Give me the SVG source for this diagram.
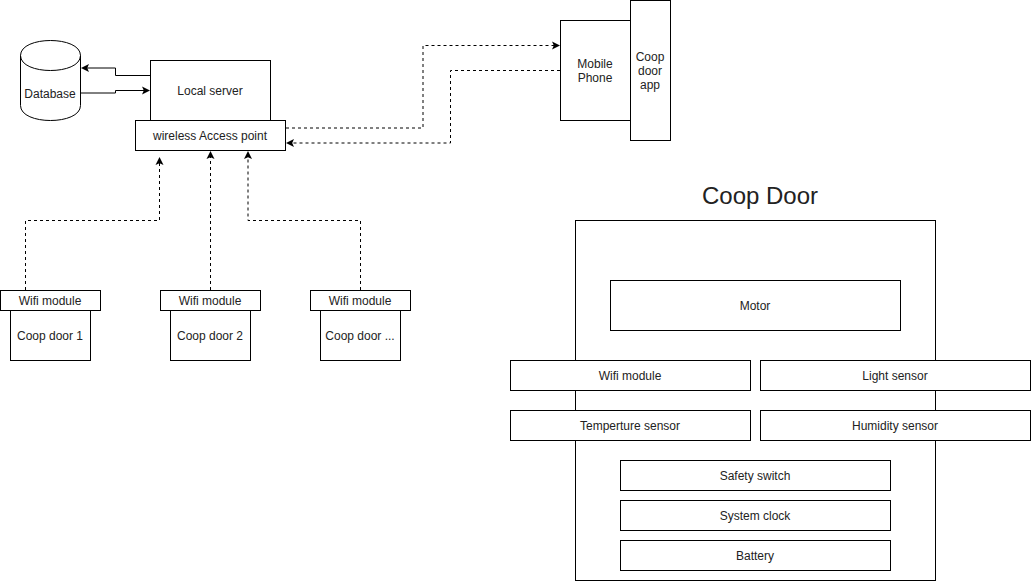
<svg xmlns="http://www.w3.org/2000/svg" width="1031" height="581" viewBox="0 0 1031 581">
<style>
text{font-family:"Liberation Sans",Arial,Helvetica,sans-serif;font-size:12px;fill:#222;text-anchor:middle}
.b{fill:#fff;stroke:#000;stroke-width:1}
.c{fill:none;stroke:#000;stroke-width:1;marker-end:url(#arrow)}
.d{stroke-dasharray:3 3}
</style>
<defs>
<marker id="arrow" markerUnits="userSpaceOnUse" markerWidth="10" markerHeight="10" viewBox="0 0 10 10" refX="3" refY="5" orient="auto">
<path d="M1 1L9 5L1 9L2.800 5Z" fill="#000"/>
</marker>
</defs>
<rect width="1031" height="581" fill="#fff"/>
<g id="database">
<path class="b" d="M20.5 55.5C20.500 35.500 80.500 35.500 80.500 55.500V105.500C80.500 125.500 20.500 125.500 20.500 105.500Z"/>
<path class="b" style="fill:none" d="M20.500 55.500C20.500 75.500 80.500 75.500 80.500 55.500"/>
<text x="50" y="98">Database</text>
</g>
<g id="local-server"><rect class="b" x="150.500" y="60.500" width="120" height="90"/><text x="210" y="95">Local server</text></g>
<g id="access-point"><rect class="b" x="135.500" y="120.500" width="150" height="30"/><text x="210" y="140">wireless Access point</text></g>
<g id="mobile-phone"><rect class="b" x="560.500" y="20.500" width="70" height="100"/><text x="595" y="68">Mobile</text><text x="595" y="82">Phone</text></g>
<g id="coop-door-app"><rect class="b" x="630.500" y="0.500" width="40" height="140"/><text x="650" y="61">Coop</text><text x="650" y="75">door</text><text x="650" y="89">app</text></g>
<g id="coop-door-1"><rect class="b" x="10.500" y="300.500" width="80" height="60"/><text x="50" y="340">Coop door 1</text></g>
<g id="wifi-1"><rect class="b" x="0.500" y="290.500" width="100" height="20"/><text x="50" y="305">Wifi module</text></g>
<g id="coop-door-2"><rect class="b" x="170.500" y="300.500" width="80" height="60"/><text x="210" y="340">Coop door 2</text></g>
<g id="wifi-2"><rect class="b" x="160.500" y="290.500" width="100" height="20"/><text x="210" y="305">Wifi module</text></g>
<g id="coop-door-3"><rect class="b" x="320.500" y="300.500" width="80" height="60"/><text x="360" y="340">Coop door ...</text></g>
<g id="wifi-3"><rect class="b" x="310.500" y="290.500" width="100" height="20"/><text x="360" y="305">Wifi module</text></g>
<g id="title"><text x="760" y="204" style="font-size:24px">Coop Door</text></g>
<g id="coop-door-panel"><rect class="b" x="575.500" y="220.500" width="360" height="360"/></g>
<g id="motor"><rect class="b" x="610.500" y="280.500" width="290" height="50"/><text x="755" y="310">Motor</text></g>
<g id="wifi-module"><rect class="b" x="510.500" y="360.500" width="240" height="30"/><text x="630" y="380">Wifi module</text></g>
<g id="light-sensor"><rect class="b" x="760.500" y="360.500" width="270" height="30"/><text x="895" y="380">Light sensor</text></g>
<g id="temperture-sensor"><rect class="b" x="510.500" y="410.500" width="240" height="30"/><text x="630" y="430">Temperture sensor</text></g>
<g id="humidity-sensor"><rect class="b" x="760.500" y="410.500" width="270" height="30"/><text x="895" y="430">Humidity sensor</text></g>
<g id="safety-switch"><rect class="b" x="620.500" y="460.500" width="270" height="30"/><text x="755" y="480">Safety switch</text></g>
<g id="system-clock"><rect class="b" x="620.500" y="500.500" width="270" height="30"/><text x="755" y="520">System clock</text></g>
<g id="battery"><rect class="b" x="620.500" y="540.500" width="270" height="30"/><text x="755" y="560">Battery</text></g>
<g id="connectors">
<path class="c" d="M150 75.500H115.500V68H87"/>
<path class="c" d="M81 93H115.500V90.500H144"/>
<path class="c d" d="M286 128H423V45.500H554"/>
<path class="c d" d="M560 70.500H450.500V143H292"/>
<path class="c d" d="M25.500 290V220.500H159.500V163"/>
<path class="c d" d="M210.500 290V157"/>
<path class="c d" d="M360.500 290V220.500H248V157"/>
</g>
</svg>
